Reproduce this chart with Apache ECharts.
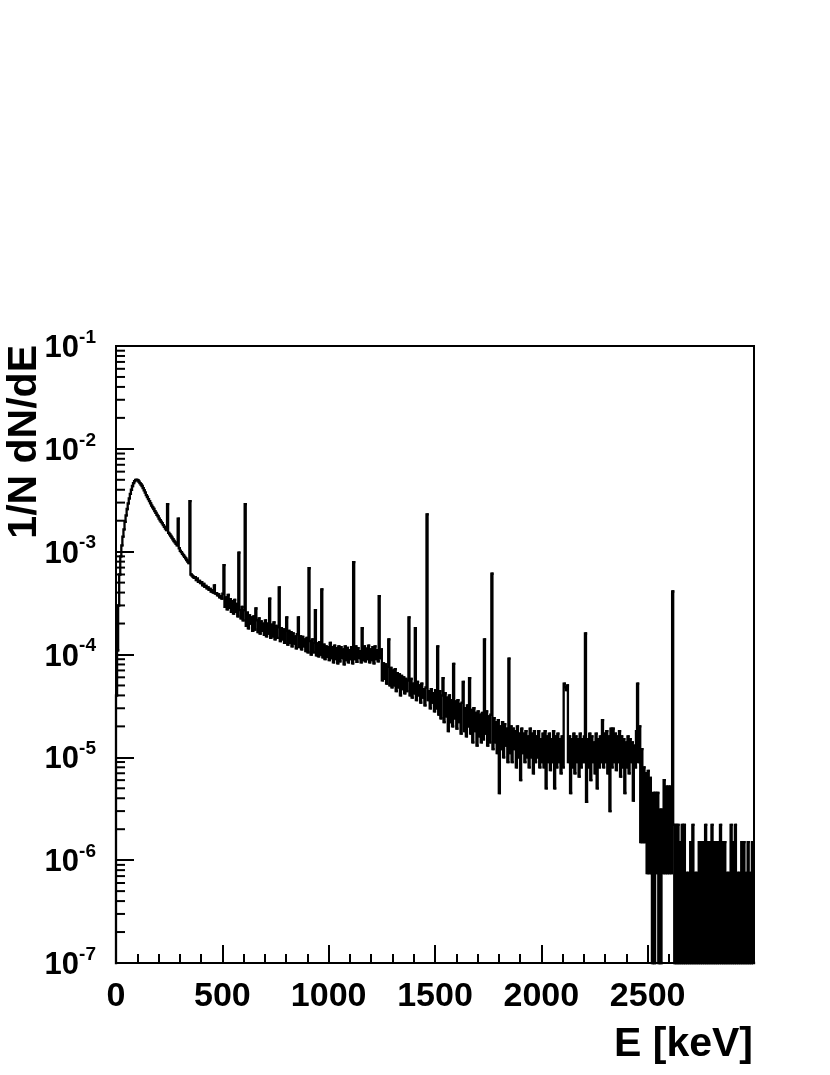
<!DOCTYPE html>
<html>
<head>
<meta charset="utf-8">
<title>1/N dN/dE</title>
<script src="https://cdn.jsdelivr.net/npm/echarts@6/dist/echarts.min.js"></script>
<style>
  html, body { margin: 0; padding: 0; background: #fff; }
  #chart { width: 830px; height: 1075px; }
</style>
</head>
<body>
<div id="chart"></div>
<script>
// bin contents in units of 1e-6 per keV, 5 keV bins, 0 = empty bin
const UNIT = 1e-6;
const BIN_KEV = 5;
const E_MAX = 3000;
const Y_MIN = 1e-7, Y_MAX = 1e-1;
const xLabelValues = [0, 500, 1000, 1500, 2000, 2500];

const spec0to500 = [
  40, 110, 300, 600, 900, 1150, 1400, 1650, 1950, 2250,
  2600, 2950, 3300, 3650, 4000, 4350, 4650, 4850, 5000, 5000,
  4950, 4800, 4650, 4500, 4350, 4150, 3950, 3750, 3550, 3400,
  3250, 3100, 2950, 2800, 2700, 2600, 2480, 2380, 2280, 2200,
  2100, 2020, 1950, 1880, 1810, 1740, 1680, 1620, 2900, 1520,
  1470, 1420, 1370, 1320, 1270, 1230, 1190, 1150, 2100, 1080,
  1020, 990, 950, 920, 890, 860, 830, 800, 775, 3100,
  600, 585, 570, 555, 565, 530, 545, 510, 520, 495,
  505, 470, 485, 455, 465, 440, 450, 425, 435, 410,
  420, 400, 470, 390, 395, 375, 385, 360, 370, 350
];
const spec500to1000 = [
  390, 740, 290, 360, 275, 380, 285, 345, 260, 330,
  250, 340, 260, 310, 235, 980, 270, 225, 290, 215,
  270, 2900, 190, 255, 180, 240, 200, 230, 170, 235,
  175, 280, 215, 165, 225, 160, 210, 170, 200, 155,
  215, 150, 200, 160, 350, 145, 195, 150, 205, 140,
  190, 145, 185, 450, 135, 180, 140, 175, 130, 170,
  230, 125, 170, 130, 165, 120, 160, 128, 150, 115,
  158, 230, 118, 150, 112, 148, 120, 140, 108, 145,
  105, 690, 135, 100, 140, 105, 130, 270, 98, 128,
  96, 132, 100, 430, 94, 125, 90, 120, 95, 118
];
const spec1000to1500 = [
  88, 130, 92, 118, 84, 122, 90, 115, 82, 120,
  86, 118, 92, 112, 80, 120, 88, 116, 84, 110,
  90, 118, 82, 790, 90, 120, 85, 115, 92, 108,
  84, 180, 88, 120, 86, 114, 90, 122, 84, 112,
  88, 118, 82, 120, 90, 110, 86, 370, 92, 112,
  56, 82, 58, 80, 52, 76, 140, 50, 74, 48,
  70, 50, 72, 44, 66, 48, 64, 40, 62, 46,
  60, 42, 58, 44, 56, 230, 40, 58, 38, 52,
  42, 180, 36, 54, 40, 50, 34, 52, 38, 46,
  32, 48, 2300, 36, 44, 30, 46, 34, 42, 28
];
const spec1500to2000 = [
  45, 30, 120, 26, 44, 24, 40, 59, 22, 42,
  25, 38, 18, 40, 22, 36, 20, 81, 24, 35,
  19, 36, 22, 33, 17, 34, 54, 18, 30, 16,
  32, 20, 59, 17, 29, 14, 30, 18, 27, 13,
  28, 16, 26, 14, 27, 15, 140, 17, 28, 13,
  25, 14, 26, 610, 12, 24, 14, 22, 11, 23,
  4.5, 20, 12, 22, 10, 21, 13, 19, 9, 91,
  11, 20, 9, 19, 12, 18, 8, 20, 10, 17,
  6, 19, 11, 17, 9, 18, 10, 16, 8, 19,
  10, 17, 7, 18, 9, 16, 10, 18, 8, 15
];
const spec2000to2460 = [
  9, 17, 8, 18, 5, 16, 9, 17, 7.5, 15,
  9, 18, 5, 16, 8, 17, 9, 15, 7, 16,
  8, 52, 48, 45, 50, 9, 16, 4.5, 15, 8,
  17, 7, 16, 9, 15, 6.5, 17, 8, 15, 9,
  16, 160, 3.7, 15, 8, 17, 6, 16, 9, 14,
  7, 17, 5, 15, 8, 16, 9, 23, 8, 17,
  9, 18, 7, 16, 3, 19, 8, 19, 9, 17,
  7.5, 16, 9, 18, 6.5, 16, 8, 15, 4.5, 14,
  8, 16, 7, 15, 9, 14, 3.8, 13, 8, 18,
  52, 9
];
const spec2460to2620 = [
  20, 1.5, 12, 1.5, 8, 1.5, 7, 0.75, 7.4, 0.75,
  6.3, 0.75, 0, 4.5, 0, 4.5, 0.75, 4.5, 0, 3.1,
  0, 3.1, 0.75, 6, 0.75, 5.2, 0.75, 5.2, 0.75, 5.2,
  0.75, 410
];
const spec2620to3000 = [
  2.2, 0, 2.2, 0, 2.2, 0, 1.5, 0, 2.2, 0,
  2.2, 0, 0.75, 0, 0.75, 0, 1.5, 0, 2.2, 0,
  0.75, 0, 0.75, 0, 1.5, 0, 1.5, 0, 1.5, 0,
  2.2, 0, 1.5, 0, 1.5, 0, 2.2, 0, 1.5, 0,
  1.5, 0, 1.5, 0, 2.2, 0, 1.5, 0, 1.5, 0,
  0.75, 0, 0.75, 0, 2.2, 0, 1.5, 0, 2.2, 0,
  0.75, 0, 0.75, 0, 1.5, 0, 1.5, 0, 0.75, 0,
  1.5, 0, 0.75, 0, 1.5, 0
];

const spectrum = [].concat(spec0to500, spec500to1000, spec1000to1500,
  spec1500to2000, spec2000to2460, spec2460to2620, spec2620to3000);

// one item per bin: [lowEdge, highEdge, previous content, content]; empty bins sit on the floor
function buildBins() {
  const bins = [];
  let prev = Y_MIN;
  spectrum.forEach(function (v, i) {
    const y = v > 0 ? v * UNIT : Y_MIN;
    bins.push([i * BIN_KEV, (i + 1) * BIN_KEV, prev, y]);
    prev = y;
  });
  return bins;
}

// log minor ticks 2..9 x 10^n
let minorY = [];
for (let e = -7; e < -1; e++) {
  for (let d = 2; d <= 9; d++) {
    minorY.push([0, d * Math.pow(10, e)]);
  }
}

const FONT = '"Liberation Sans", Arial, Helvetica, sans-serif';

var myChart = echarts.init(document.getElementById('chart'));

var option = {
  animation: false,
  backgroundColor: '#fff',
  grid: {
    left: 116, right: 76, top: 346, bottom: 112,
    show: true, borderColor: '#000', borderWidth: 2
  },
  xAxis: {
    type: 'value', min: 0, max: E_MAX, interval: 500,
    axisLine: { lineStyle: { color: '#000', width: 2 } },
    axisTick: { inside: true, length: 18, lineStyle: { color: '#000', width: 2 } },
    minorTick: { show: true, splitNumber: 5, length: 9, lineStyle: { color: '#000', width: 2 } },
    splitLine: { show: false },
    axisLabel: {
      margin: 17, color: '#000', fontFamily: FONT, fontWeight: 'bold', fontSize: 34,
      formatter: function (v) { return xLabelValues.indexOf(v) >= 0 ? String(v) : ''; }
    }
  },
  yAxis: {
    type: 'log', logBase: 10, min: Y_MIN, max: Y_MAX, splitNumber: 6,
    axisLine: { lineStyle: { color: '#000', width: 2 } },
    axisTick: { inside: true, length: 18, lineStyle: { color: '#000', width: 2 } },
    splitLine: { show: false },
    axisLabel: {
      margin: 20, color: '#000',
      formatter: function (v) {
        return '{b|10}{s|' + Math.round(Math.log10(v)) + '}';
      },
      rich: {
        b: { fontFamily: FONT, fontWeight: 'bold', fontSize: 31, lineHeight: 36, verticalAlign: 'bottom', color: '#000' },
        s: { fontFamily: FONT, fontWeight: 'bold', fontSize: 19, lineHeight: 19, verticalAlign: 'top', color: '#000' }
      }
    }
  },
  graphic: [
    {
      type: 'text', x: 753, y: 1045,
      style: { text: 'E [keV]', font: 'bold 41px ' + FONT, fill: '#000', align: 'right', verticalAlign: 'middle' }
    },
    {
      type: 'text', x: 25, y: 345, rotation: Math.PI / 2,
      style: { text: '1/N dN/dE', font: 'bold 41px ' + FONT, fill: '#000', align: 'right', verticalAlign: 'middle' }
    }
  ],
  series: [
    {
      // histogram drawn bin by bin (rise/fall at low edge, then flat top)
      type: 'custom',
      data: buildBins(),
      silent: true,
      encode: { x: [0, 1], y: [2, 3] },
      renderItem: function (params, api) {
        const a = api.coord([api.value(0), api.value(2)]);
        const b = api.coord([api.value(0), api.value(3)]);
        const c = api.coord([api.value(1), api.value(3)]);
        return {
          type: 'polyline',
          shape: { points: [a, b, c] },
          style: { stroke: '#000', fill: null, lineWidth: 2.3, lineCap: 'square', lineJoin: 'miter' }
        };
      },
      z: 3
    },
    {
      type: 'custom',
      data: minorY,
      silent: true,
      clip: false,
      renderItem: function (params, api) {
        const p = api.coord([0, api.value(1)]);
        return {
          type: 'line',
          shape: { x1: p[0], y1: p[1], x2: p[0] + 9, y2: p[1] },
          style: { stroke: '#000', lineWidth: 2 }
        };
      },
      z: 4
    }
  ]
};

myChart.setOption(option);
</script>
</body>
</html>
